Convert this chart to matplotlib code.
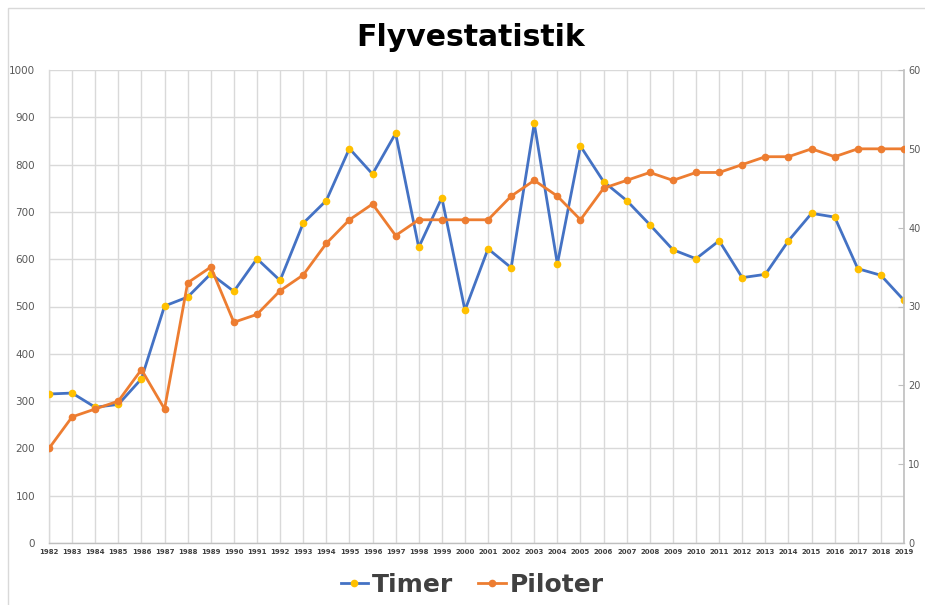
import matplotlib
matplotlib.use("Agg")
import matplotlib.pyplot as plt
from matplotlib.lines import Line2D
from matplotlib.patches import Rectangle

years = list(range(1982, 2020))
timer = [315, 317, 287, 293, 347, 501, 520, 569, 532, 601, 555, 676,
         724, 834, 780, 866, 625, 730, 492, 622, 582, 887, 590, 839,
         764, 724, 673, 620, 601, 639, 561, 568, 639, 697, 689, 580,
         566, 513]
piloter = [12, 16, 17, 18, 22, 17, 33, 35, 28, 29, 32, 34,
           38, 41, 43, 39, 41, 41, 41, 41, 44, 46, 44, 41,
           45, 46, 47, 46, 47, 47, 48, 49, 49, 50, 49, 50,
           50, 50]
left_ticks = list(range(0, 1001, 100))
right_ticks = list(range(0, 61, 10))

BLUE = "#4472C4"
ORANGE = "#ED7D31"
YELLOW = "#FFC000"
GRID = "#d9d9d9"
TXT = "#595959"

fig = plt.figure(figsize=(9.25, 6.05), dpi=100)
fig.patches.append(Rectangle((8/925, -0.1), 1.2, (605-8)/605 + 0.1,
                             transform=fig.transFigure, fill=False,
                             edgecolor="#d9d9d9", linewidth=1.0))

ax = fig.add_axes([49/925, (605-543)/605, (904-49)/925, (543-70)/605])
ax.plot(years, timer, color=BLUE, lw=2.0, marker="o", ms=4.5,
        mfc=YELLOW, mec=YELLOW, zorder=3)
ax.set_xlim(1982, 2019)
ax.set_ylim(0, 1000)
ax.set_yticks(left_ticks)
ax.set_xticks(years)
ax.set_xticklabels([str(y) for y in years], fontsize=5, fontweight="bold",
                   color="#404040")
ax.tick_params(axis="x", length=0, pad=4)
ax.tick_params(axis="y", length=0, pad=10, labelsize=7.5, labelcolor=TXT)
ax.grid(True, color=GRID, lw=1.0)
ax.set_axisbelow(True)
for s in ["top", "right"]:
    ax.spines[s].set_visible(False)
for s in ["left", "bottom"]:
    ax.spines[s].set_color(GRID)
    ax.spines[s].set_linewidth(1.0)
ax.spines["bottom"].set_color("#bfbfbf")

ax2 = ax.twinx()
ax2.plot(years, piloter, color=ORANGE, lw=2.0, marker="o", ms=4.5,
         mfc=ORANGE, mec=ORANGE, zorder=3)
ax2.set_ylim(0, 60)
ax2.set_yticks(right_ticks)
ax2.tick_params(axis="y", direction="in", length=4, color="#bfbfbf",
                pad=3, labelsize=7, labelcolor=TXT)
for s in ["top", "left", "bottom"]:
    ax2.spines[s].set_visible(False)
ax2.spines["right"].set_color("#bfbfbf")
ax2.spines["right"].set_linewidth(1.2)

fig.text(471/925, 1 - 38/605, "Flyvestatistik", ha="center", va="center",
         fontsize=21.5, fontweight="bold", color="black")

handles = [Line2D([0], [0], color=BLUE, lw=2.0, marker="o", ms=4.5,
                  mfc=YELLOW, mec=YELLOW),
           Line2D([0], [0], color=ORANGE, lw=2.0, marker="o", ms=4.5,
                  mfc=ORANGE, mec=ORANGE)]
leg = fig.legend(handles, ["Timer", "Piloter"], loc="center",
                 bbox_to_anchor=(472/925, 1 - 585/605), ncol=2, frameon=False,
                 prop={"size": 18, "weight": "bold"}, handlelength=1.1,
                 handletextpad=0.15, columnspacing=1.0)
for t in leg.get_texts():
    t.set_color("#404040")

fig.savefig("out.png", dpi=100)
